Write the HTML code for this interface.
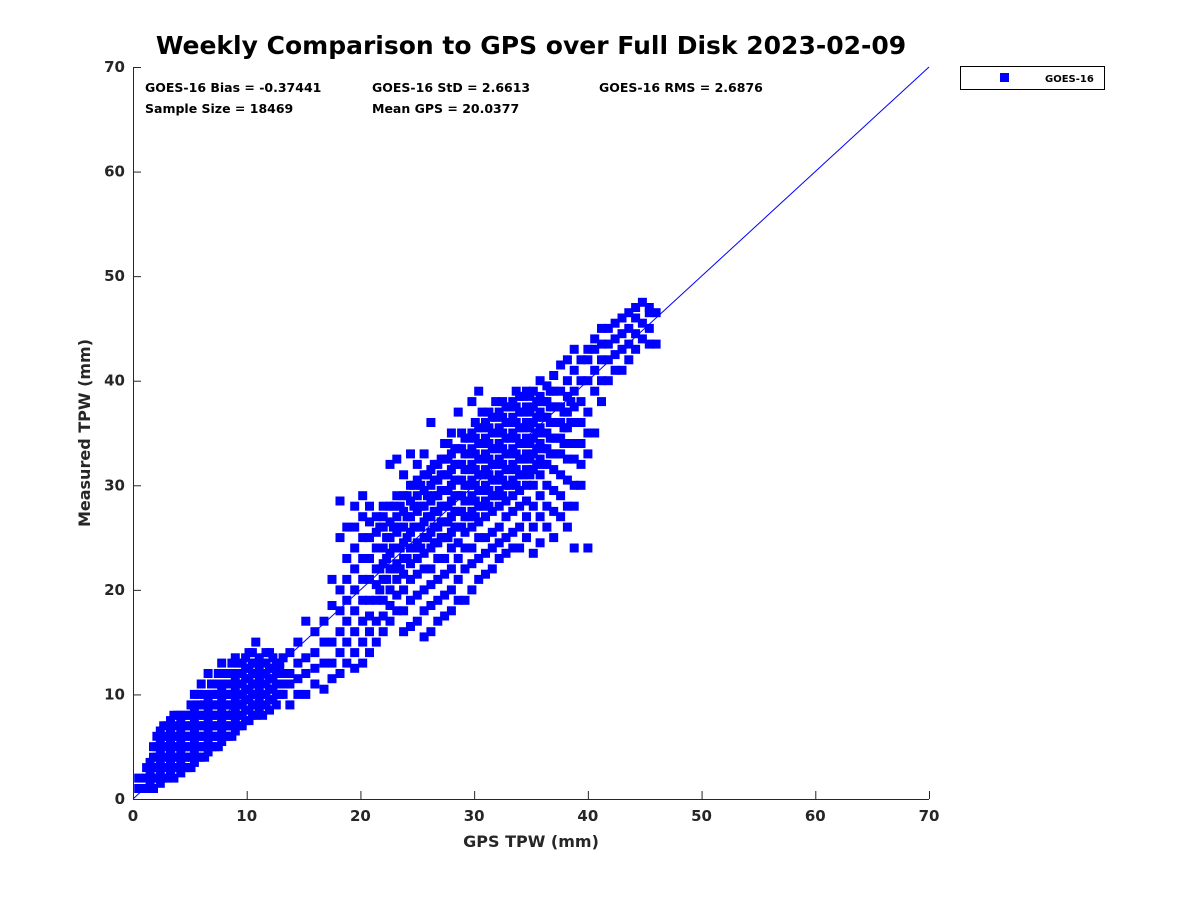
<!DOCTYPE html>
<html><head><meta charset="utf-8"><style>
body{margin:0;background:#fff;width:1200px;height:900px;overflow:hidden}
svg{font-family:"DejaVu Sans","Liberation Sans",sans-serif;font-weight:bold}
</style></head><body>
<svg id="chart" width="1200" height="900" xmlns="http://www.w3.org/2000/svg">
<text x="531" y="54" text-anchor="middle" font-size="25" fill="#000">Weekly Comparison to GPS over Full Disk 2023-02-09</text>
<g font-size="12.5" fill="#000">
<text x="145" y="92">GOES-16 Bias = -0.37441</text>
<text x="372" y="92">GOES-16 StD = 2.6613</text>
<text x="599" y="92">GOES-16 RMS = 2.6876</text>
<text x="145" y="113">Sample Size = 18469</text>
<text x="372" y="113">Mean GPS = 20.0377</text>
</g>
<g id="marks"></g>
<g id="axes"></g>
<g>
<rect x="960.5" y="66.5" width="144" height="23" fill="#fff" stroke="#000" stroke-width="1"/>
<rect x="1000" y="73" width="9" height="9" fill="#0000ff"/>
<text x="1045" y="82" font-size="10" fill="#000">GOES-16</text>
</g>
<text x="531" y="847" text-anchor="middle" font-size="16" fill="#262626">GPS TPW (mm)</text>
<text transform="translate(90,433) rotate(-90)" text-anchor="middle" font-size="16" fill="#262626">Measured TPW (mm)</text>
</svg>
<script>
const xTicks = [0,10,20,30,40,50,60,70];
const yTicks = [0,10,20,30,40,50,60,70];
const gps = [
0.5,0.5,
1.2,1.2,1.2,
1.8,1.8,1.8,1.8,1.8,
2.4,2.4,2.4,2.4,2.4,2.4,
3,3,3,3,3,3,
3.6,3.6,3.6,3.6,3.6,3.6,3.6,
4.2,4.2,4.2,4.2,4.2,4.2,4.2,
4.8,4.8,4.8,4.8,4.8,4.8,
5.4,5.4,5.4,5.4,5.4,5.4,5.4,
6,6,6,6,6,6,6,
6.6,6.6,6.6,6.6,6.6,6.6,6.6,
7.2,7.2,7.2,7.2,7.2,7.2,7.2,
7.8,7.8,7.8,7.8,7.8,7.8,7.8,
8.4,8.4,8.4,8.4,8.4,8.4,8.4,
9,9,9,9,9,9,9,
9.6,9.6,9.6,9.6,9.6,9.6,9.6,
10.2,10.2,10.2,10.2,10.2,10.2,10.2,
10.8,10.8,10.8,10.8,10.8,10.8,10.8,
11.4,11.4,11.4,11.4,11.4,11.4,
12,12,12,12,12,12,
12.6,12.6,12.6,12.6,12.6,
13.2,13.2,13.2,13.2,
13.8,13.8,13.8,13.8,
14.5,14.5,14.5,14.5,
15.2,15.2,15.2,15.2,
16,16,16,16,
16.8,16.8,16.8,16.8,
17.5,17.5,17.5,17.5,17.5,
18.2,18.2,18.2,18.2,18.2,18.2,18.2,
18.8,18.8,18.8,18.8,18.8,18.8,18.8,
19.5,19.5,19.5,19.5,19.5,19.5,19.5,19.5,19.5,
20.2,20.2,20.2,20.2,20.2,20.2,20.2,20.2,20.2,
20.8,20.8,20.8,20.8,20.8,20.8,20.8,20.8,20.8,
21.4,21.4,21.4,21.4,21.4,21.4,21.4,21.4,
22,22,22,22,22,22,22,22,22,
22.6,22.6,22.6,22.6,22.6,22.6,22.6,22.6,22.6,
23.2,23.2,23.2,23.2,23.2,23.2,23.2,23.2,23.2,
23.8,23.8,23.8,23.8,23.8,23.8,23.8,23.8,23.8,23.8,
24.4,24.4,24.4,24.4,24.4,24.4,24.4,24.4,24.4,24.4,
25,25,25,25,25,25,25,25,25,25,
25.6,25.6,25.6,25.6,25.6,25.6,25.6,25.6,25.6,25.6,25.6,
26.2,26.2,26.2,26.2,26.2,26.2,26.2,26.2,26.2,26.2,26.2,
26.8,26.8,26.8,26.8,26.8,26.8,26.8,26.8,26.8,26.8,
27.4,27.4,27.4,27.4,27.4,27.4,27.4,27.4,27.4,27.4,27.4,
28,28,28,28,28,28,28,28,28,28,28,
28.6,28.6,28.6,28.6,28.6,28.6,28.6,28.6,28.6,28.6,28.6,
29.2,29.2,29.2,29.2,29.2,29.2,29.2,29.2,29.2,29.2,
29.8,29.8,29.8,29.8,29.8,29.8,29.8,29.8,29.8,29.8,29.8,
30.4,30.4,30.4,30.4,30.4,30.4,30.4,30.4,30.4,30.4,30.4,
31,31,31,31,31,31,31,31,31,31,
31.6,31.6,31.6,31.6,31.6,31.6,31.6,31.6,31.6,31.6,
32.2,32.2,32.2,32.2,32.2,32.2,32.2,32.2,32.2,32.2,
32.8,32.8,32.8,32.8,32.8,32.8,32.8,32.8,32.8,32.8,
33.4,33.4,33.4,33.4,33.4,33.4,33.4,33.4,33.4,33.4,
34,34,34,34,34,34,34,34,34,34,
34.6,34.6,34.6,34.6,34.6,34.6,34.6,34.6,34.6,34.6,
35.2,35.2,35.2,35.2,35.2,35.2,35.2,35.2,35.2,35.2,
35.8,35.8,35.8,35.8,35.8,35.8,35.8,35.8,35.8,35.8,
36.4,36.4,36.4,36.4,36.4,36.4,36.4,36.4,36.4,
37,37,37,37,37,37,37,37,37,37,
37.6,37.6,37.6,37.6,37.6,37.6,37.6,37.6,37.6,
38.2,38.2,38.2,38.2,38.2,38.2,38.2,38.2,38.2,38.2,
38.8,38.8,38.8,38.8,38.8,38.8,38.8,38.8,38.8,38.8,
39.4,39.4,39.4,39.4,39.4,39.4,39.4,
40,40,40,40,40,40,40,
40.6,40.6,40.6,40.6,40.6,
41.2,41.2,41.2,41.2,41.2,
41.8,41.8,41.8,41.8,
42.4,42.4,42.4,42.4,
43,43,43,43,
43.6,43.6,43.6,43.6,
44.2,44.2,44.2,44.2,
44.8,44.8,44.8,
45.4,45.4,45.4,45.4,
46,46,
1.5,1.5,1.5,
2.1,2.1,2.1,2.1,2.1,
2.7,2.7,2.7,2.7,2.7,2.7,
3.3,3.3,3.3,3.3,3.3,3.3,
3.9,3.9,3.9,3.9,3.9,3.9,
4.5,4.5,4.5,4.5,4.5,4.5,
5.1,5.1,5.1,5.1,5.1,5.1,5.1,
5.7,5.7,5.7,5.7,5.7,5.7,5.7,
6.3,6.3,6.3,6.3,6.3,6.3,6.3,
6.9,6.9,6.9,6.9,6.9,6.9,6.9,
7.5,7.5,7.5,7.5,7.5,7.5,7.5,7.5,
8.1,8.1,8.1,8.1,8.1,8.1,8.1,
8.7,8.7,8.7,8.7,8.7,8.7,8.7,8.7,
9.3,9.3,9.3,9.3,9.3,9.3,9.3,
9.9,9.9,9.9,9.9,9.9,9.9,9.9,
10.5,10.5,10.5,10.5,10.5,10.5,10.5,
11.1,11.1,11.1,11.1,11.1,11.1,
11.7,11.7,11.7,11.7,11.7,11.7,
12.3,12.3,12.3,12.3,12.3,
12.9,12.9,12.9,12.9,
26.5,26.5,26.5,26.5,26.5,26.5,
27.1,27.1,27.1,27.1,27.1,27.1,
27.7,27.7,27.7,27.7,27.7,27.7,27.7,
28.3,28.3,28.3,28.3,28.3,28.3,
28.9,28.9,28.9,28.9,28.9,28.9,28.9,
29.5,29.5,29.5,29.5,29.5,29.5,
30.1,30.1,30.1,30.1,30.1,30.1,30.1,
30.7,30.7,30.7,30.7,30.7,30.7,30.7,
31.3,31.3,31.3,31.3,31.3,31.3,31.3,
31.9,31.9,31.9,31.9,31.9,31.9,31.9,
32.5,32.5,32.5,32.5,32.5,32.5,32.5,
33.1,33.1,33.1,33.1,33.1,33.1,
33.7,33.7,33.7,33.7,33.7,33.7,33.7,
34.3,34.3,34.3,34.3,34.3,34.3,
34.9,34.9,34.9,34.9,34.9,34.9,
35.5,35.5,35.5,35.5,35.5,
36.1,36.1,36.1,36.1,36.1,
36.7,36.7,36.7,36.7,36.7,
37.3,37.3,37.3,37.3,
37.9,37.9,37.9,
38.5,38.5,38.5,
21.7,21.7,21.7,21.7,
22.3,22.3,22.3,
22.9,22.9,22.9,22.9,
23.5,23.5,23.5,23.5,
24.1,24.1,24.1,24.1,
24.7,24.7,24.7,24.7,
25.3,25.3,25.3,25.3,
25.9,25.9,25.9,25.9
];
const measured = [
1,2,
1,2,3,
1,2,3,4,5,
1.5,2.5,3.5,4.5,5.5,6.5,
2,3,4,5,6,7,
2,3,4,5,6,7,8,
2.5,3.5,4.5,5.5,6.5,7.5,8,
3,4,5,6,7,8,
3.5,4.5,5.5,6.5,7.5,8.5,10,
4,5,6,7,8,9,11,
4.5,5.5,6.5,7.5,8.5,9.5,12,
5,6,7,8,9,10,11,
5.5,6.5,7.5,8.5,9.5,10.5,13,
6,7,8,9,10,11,12,
6.5,7.5,8.5,9.5,10.5,11.5,13.5,
7,8,9,10,11,12,13,
7.5,8.5,9.5,10.5,11.5,12.5,14,
8,9,10,11,12,13,15,
8,9,10,11,12,13,
8.5,9.5,10.5,11.5,12.5,14,
9,10,11,12,13,
10,11,12,13.5,
9,11,12,14,
10,11.5,13,15,
10,12,13.5,17,
11,12.5,14,16,
10.5,13,15,17,
11.5,13,15,18.5,21,
12,14,16,18,20,25,28.5,
13,15,17,19,21,23,26,
12.5,14,16,18,20,22,24,26,28,
13,15,17,19,21,23,25,27,29,
14,16,17.5,19,21,23,25,26.5,28,
15,17,19,20.5,22,24,25.5,27,
16,17.5,19,21,22.5,24,26,27,28,
17,18.5,20,22,23.5,25,26.5,28,32,
18,19.5,21,22.5,24,25.5,27,29,32.5,
16,18,20,21.5,23,24.5,26,27.5,29,31,
16.5,19,21,22.5,24,25.5,27,28.5,30,33,
17,19.5,21.5,23,24.5,26,27.5,29,30.5,32,
15.5,18,20,22,23.5,25,26.5,28,29.5,31,33,
16,18.5,20.5,22,24,25.5,27,28.5,30,31.5,36,
17,19,21,23,24.5,26,27.5,29,30.5,32,
17.5,19.5,21.5,23,25,26.5,28,29.5,31,32.5,34,
18,20,22,24,25.5,27,28.5,30,31.5,33,35,
19,21,23,24.5,26,27.5,29,30.5,32,33.5,37,
19,22,24,25.5,27,28.5,30,31.5,33,34.5,
20,22.5,24,26,27.5,29,30.5,32,33.5,35,38,
21,23,25,26.5,28,29.5,31,32.5,34,35.5,39,
21.5,23.5,25,27,28.5,30,31.5,33,34.5,36,
22,24,25.5,27.5,29,30.5,32,33.5,35,36.5,
23,24.5,26,28,29.5,31,32.5,34,35.5,37,
23.5,25,27,28.5,30,31.5,33,34.5,36,37.5,
24,25.5,27.5,29,30.5,32,33.5,35,36.5,38,
24,26,28,29.5,31,32.5,34,35.5,37,38.5,
25,27,28.5,30,31.5,33,34.5,36,37.5,39,
23.5,26,28,30,31.5,33,34.5,36,37.5,39,
24.5,27,29,31,32.5,34,35.5,37,38.5,40,
26,28,30,32,33.5,35,36.5,38,39.5,
25,27.5,29.5,31.5,33,34.5,36,37.5,39,40.5,
27,29,31,33,34.5,36,37.5,39,41.5,
26,28,30.5,32.5,34,35.5,37,38.5,40,42,
24,28,30,32.5,34,36,37.5,39,41,43,
30,32,34,36,38,40,42,
24,33,35,37,40,42,43,
35,39,41,43,44,
38,40,42,43.5,45,
40,42,43.5,45,
41,42.5,44,45.5,
41,43,44.5,46,
42,43.5,45,46.5,
43,44.5,46,47,
44,45.5,47.5,
43.5,45,46.5,47,
43.5,46.5,
1.5,2.5,3.5,
2,3,4,5,6,
2,3,4,5,6,7,
2.5,3.5,4.5,5.5,6.5,7.5,
3,4,5,6,7,8,
3,4,5,6,7,8,
3,4,5,6,7,8,9,
4,5,6,7,8,9,10,
4,5,6,7,8,9,10,
5,6,7,8,9,10,11,
5,6,7,8,9,10,11,12,
6,7,8,9,10,11,12,
6,7,8,9,10,11,12,13,
7,8,9,10,11,12,13,
7.5,8.5,9.5,10.5,11.5,12.5,13.5,
8,9,10,11,12,13,14,
8.5,9.5,10.5,11.5,12.5,13.5,
9,10,11,12,13,14,
9.5,10.5,11.5,12.5,13.5,
10,11,12.5,13,
24.5,26,27.5,29,30.5,32,
25,26.5,28,29.5,31,32.5,
25,26.5,28,29.5,31,32.5,34,
26,27.5,29,30.5,32,33.5,
26,27.5,29,30.5,32,33.5,35,
27,28.5,30,31.5,33,34.5,
27,28.5,30,31.5,33,34.5,36,
28,29.5,31,32.5,34,35.5,37,
28,29.5,31,32.5,34,35.5,37,
29,30.5,32,33.5,35,36.5,38,
29,30.5,32,33.5,35,36.5,38,
30,31.5,33,34.5,36,37.5,
30,31.5,33,34.5,36,37.5,39,
31,32.5,34,35.5,37,38.5,
31,32.5,34,35.5,37,38.5,
32,33.5,35,36.5,38,
32,33.5,35,36.5,38,
33,34.5,36,37.5,39,
33,34.5,36,37.5,
34,35.5,37,
34,36,38,
20,22,24,26,
21,23,25,
22,24,26,28,
22,24,26,28,
23,25,27,29,
24,26,28,30,
24,26,28,30,
25,27,29,31
];
const X0=133, X1=929, Y0=799, Y1=67, XMAX=70, YMAX=70;
function xs(v){return X0+(X1-X0)*v/XMAX;}
function ys(v){return Y0-(Y0-Y1)*v/YMAX;}
const NS="http://www.w3.org/2000/svg";
const marks=document.getElementById('marks');
const axes=document.getElementById('axes');
for(let i=0;i<gps.length;i++){
  const r=document.createElementNS(NS,'rect');
  
  
  r.setAttribute('x',(xs(gps[i])-4.5).toFixed(1));
  r.setAttribute('y',(ys(measured[i])-4.5).toFixed(1));
  r.setAttribute('width',9);r.setAttribute('height',9);
  r.setAttribute('fill','#0000ff');
  marks.appendChild(r);
}
const ln=document.createElementNS(NS,'line');


ln.setAttribute('x1',xs(0));ln.setAttribute('y1',ys(0));
ln.setAttribute('x2',xs(70));ln.setAttribute('y2',ys(70));
ln.setAttribute('stroke','#0000ff');ln.setAttribute('stroke-width','1');
marks.appendChild(ln);
const xa=document.createElementNS(NS,'line');


xa.setAttribute('x1',X0);xa.setAttribute('y1',Y0+0.5);xa.setAttribute('x2',X1);xa.setAttribute('y2',Y0+0.5);
xa.setAttribute('stroke','#262626');
axes.appendChild(xa);
const ya=document.createElementNS(NS,'line');


ya.setAttribute('x1',X0+0.5);ya.setAttribute('y1',Y0);ya.setAttribute('x2',X0+0.5);ya.setAttribute('y2',Y1);
ya.setAttribute('stroke','#262626');
axes.appendChild(ya);
xTicks.forEach(t=>{
  const tk=document.createElementNS(NS,'line');
  
  
  tk.setAttribute('x1',xs(t)+0.5);tk.setAttribute('x2',xs(t)+0.5);tk.setAttribute('y1',Y0);tk.setAttribute('y2',Y0-8);
  tk.setAttribute('stroke','#262626');
  axes.appendChild(tk);
  const tx=document.createElementNS(NS,'text');
  
  
  tx.setAttribute('x',xs(t));tx.setAttribute('y',Y0+22);
  tx.setAttribute('text-anchor','middle');tx.setAttribute('font-size','15');tx.setAttribute('fill','#262626');
  tx.textContent=t;
  axes.appendChild(tx);
});
yTicks.forEach(t=>{
  const tk=document.createElementNS(NS,'line');
  
  
  tk.setAttribute('x1',X0);tk.setAttribute('x2',X0+8);tk.setAttribute('y1',ys(t)+0.5);tk.setAttribute('y2',ys(t)+0.5);
  tk.setAttribute('stroke','#262626');
  axes.appendChild(tk);
  const tx=document.createElementNS(NS,'text');
  
  
  tx.setAttribute('x',X0-8);tx.setAttribute('y',ys(t)+5);
  tx.setAttribute('text-anchor','end');tx.setAttribute('font-size','15');tx.setAttribute('fill','#262626');
  tx.textContent=t;
  axes.appendChild(tx);
});
</script>
</body></html>
